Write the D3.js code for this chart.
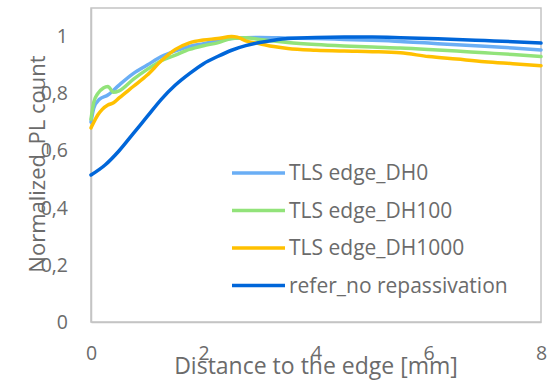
<!DOCTYPE html>
<html>
<head>
<meta charset="utf-8">
<script src="https://cdn.jsdelivr.net/npm/d3@7"></script>
<style>
  body { margin: 0; background: #fff; }
  text { font-family: "Open Sans", Lato, sans-serif; fill: #6b6b6b; }
</style>
</head>
<body>
<div id="chart"></div>
<script>
// series: [distance mm, normalized count]
const dh0 = [[0,0.70],[0.05,0.75],[0.15,0.78],[0.3,0.795],[0.5,0.83],[0.75,0.87],[1.0,0.90],[1.25,0.93],[1.5,0.95],[1.75,0.965],[2,0.975],[2.25,0.985],[2.5,0.993],[2.75,0.996],[3,0.997],[3.5,0.995],[4,0.993],[4.5,0.99],[5,0.987],[5.5,0.983],[6,0.977],[6.5,0.971],[7,0.966],[7.5,0.96],[8,0.953]];
const dh100 = [[0,0.71],[0.05,0.77],[0.12,0.80],[0.22,0.82],[0.3,0.825],[0.4,0.805],[0.5,0.81],[0.75,0.85],[1.0,0.885],[1.25,0.915],[1.5,0.935],[1.75,0.955],[2,0.968],[2.25,0.978],[2.5,0.993],[2.75,0.996],[3,0.99],[3.25,0.984],[3.5,0.979],[4,0.972],[4.5,0.967],[5,0.963],[5.5,0.96],[6,0.955],[6.5,0.949],[7,0.943],[7.5,0.937],[8,0.93]];
const dh1000 = [[0,0.68],[0.05,0.70],[0.12,0.725],[0.2,0.745],[0.3,0.76],[0.4,0.768],[0.5,0.785],[0.75,0.825],[1.0,0.865],[1.25,0.915],[1.5,0.955],[1.75,0.978],[2,0.988],[2.25,0.993],[2.5,1.0],[2.6,0.998],[2.75,0.985],[3,0.975],[3.25,0.965],[3.5,0.958],[4,0.952],[4.5,0.949],[5,0.947],[5.5,0.943],[6,0.93],[6.5,0.921],[7,0.912],[7.5,0.905],[8,0.898]];
const refer = [[0,0.515],[0.25,0.55],[0.5,0.60],[0.75,0.66],[1.0,0.72],[1.25,0.78],[1.5,0.83],[1.75,0.87],[2,0.905],[2.25,0.93],[2.5,0.952],[2.75,0.968],[3,0.979],[3.25,0.987],[3.5,0.993],[4,0.997],[4.5,0.998],[5,0.998],[5.5,0.996],[6,0.993],[6.5,0.99],[7,0.986],[7.5,0.982],[8,0.977]];

const seriesNames = ["TLS edge_DH0", "TLS edge_DH100", "TLS edge_DH1000", "refer_no repassivation"];
const seriesData = [dh0, dh100, dh1000, refer];
const colors = ["#6aaef5", "#92e37a", "#ffc000", "#0066d9"];

const xTicks = [0, 2, 4, 6, 8];
const yTicks = [0, 0.2, 0.4, 0.6, 0.8, 1];

const W = 557, H = 385;
const margin = { top: 8, right: 16, bottom: 63, left: 91 };
const width = W - margin.left - margin.right;
const height = H - margin.top - margin.bottom;

const svg = d3.select("#chart").append("svg")
  .attr("width", W)
  .attr("height", H);

const g = svg.append("g")
  .attr("transform", "translate(" + margin.left + "," + margin.top + ")");

const x = d3.scaleLinear().domain([0, 8]).range([0, width]);
const y = d3.scaleLinear().domain([0, 1.1]).range([height, 0]);

// plot area border
g.append("rect")
  .attr("x", 0).attr("y", 0)
  .attr("width", width).attr("height", height)
  .attr("fill", "none")
  .attr("stroke", "#c4c4c4")
  .attr("stroke-width", 1.5);

// x axis
const xAxis = g.append("g")
  .attr("transform", "translate(0," + height + ")")
  .call(d3.axisBottom(x).tickValues(xTicks).tickSize(0).tickPadding(24));
xAxis.select(".domain").attr("stroke", "#c4c4c4").attr("stroke-width", 1.5);
xAxis.selectAll("text").style("font-size", "19.5px").attr("fill", "#6b6b6b");

// y axis
const fmt = d => String(d).replace(".", ",");
const yAxis = g.append("g")
  .call(d3.axisLeft(y).tickValues(yTicks).tickFormat(fmt).tickSize(0).tickPadding(23));
yAxis.select(".domain").attr("stroke", "#c4c4c4").attr("stroke-width", 1.5);
yAxis.selectAll("text").style("font-size", "19.5px").attr("fill", "#6b6b6b");

// lines
const line = d3.line()
  .x(d => x(d[0]))
  .y(d => y(d[1]))
  .curve(d3.curveMonotoneX);

seriesData.forEach((s, i) => {
  g.append("path")
    .datum(s)
    .attr("fill", "none")
    .attr("stroke", colors[i])
    .attr("stroke-width", 3.5)
    .attr("stroke-linejoin", "round")
    .attr("stroke-linecap", "round")
    .attr("d", line);
});

// legend
const legend = svg.append("g").attr("transform", "translate(232,173)");
seriesNames.forEach((name, i) => {
  const row = legend.append("g").attr("transform", "translate(0," + (i * 37.5) + ")");
  row.append("line")
    .attr("x1", 0).attr("x2", 53)
    .attr("y1", 0).attr("y2", 0)
    .attr("stroke", colors[i])
    .attr("stroke-width", 3.5);
  row.append("text")
    .attr("x", 57).attr("y", 0)
    .attr("dy", "0.35em")
    .style("font-size", "21px")
    .text(name);
});

// axis titles
svg.append("text")
  .attr("x", 316)
  .attr("y", 374)
  .attr("text-anchor", "middle")
  .style("font-size", "23px")
  .text("Distance to the edge [mm]");

svg.append("text")
  .attr("transform", "translate(45,164) rotate(-90)")
  .attr("text-anchor", "middle")
  .style("font-size", "22px")
  .text("Normalized_PL count");
</script>
</body>
</html>
